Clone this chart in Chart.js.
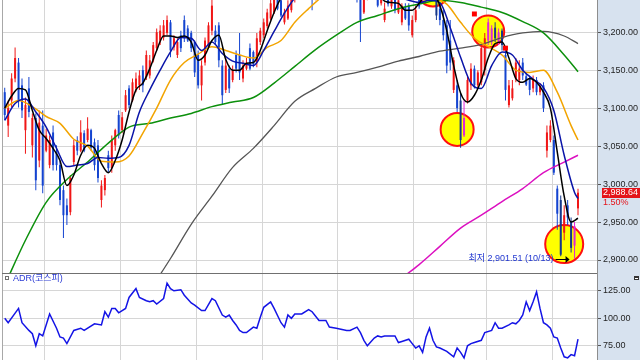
<!DOCTYPE html>
<html>
<head>
<meta charset="utf-8">
<script src="https://cdn.jsdelivr.net/npm/chart.js@4.4.1/dist/chart.umd.min.js"></script>
<style>
html, body { margin: 0; padding: 0; background: #fff; }
#wrap { position: relative; width: 640px; height: 360px; overflow: hidden; }
#priceChart { position: absolute; left: 0; top: 0; }
#adrChart { position: absolute; left: 0; top: 273px; }
</style>
</head>
<body>
<div id="wrap">
  <canvas id="priceChart" width="640" height="273"></canvas>
  <canvas id="adrChart" width="640" height="87"></canvas>
</div>
<script>
// 코스피 일봉 + 이동평균 + ADR, 값은 그림에서 눈으로 읽은 것

const slotCount = 172;                       // 오른쪽 빈칸 포함 봉 자리 수
const monthStarts = [12, 34, 56, 75, 97, 119, 140, 159];
const priceTicks = [2900, 2950, 3000, 3050, 3100, 3150, 3200];
const adrTicks = [75, 100, 125];

const open = [
  3121, 3077, 3110, 3139, 3160, 3130, 3071, 3126, 3051, 3087,
  3031, 3077, 3044, 3025, 3068, 3042, 3025, 2992, 2972, 2963,
  3029, 3058, 3044, 3067, 3058, 3071, 3055, 3051, 2979, 2992,
  3038, 3021, 3051, 3091, 3071, 3097, 3126, 3110, 3126, 3130,
  3150, 3141, 3143, 3163, 3179, 3189, 3193, 3199, 3213, 3180,
  3170, 3196, 3216, 3205, 3199, 3187, 3170, 3130, 3160, 3183,
  3202, 3202, 3209, 3156, 3124, 3152, 3137, 3170, 3170, 3139,
  3152, 3179, 3174, 3160, 3187, 3196, 3208, 3218, 3226, 3249,
  3242, 3213, 3218, 3229, 3246, 3258, 3253, 3268, 3262, 3268,
  3249, 3266, 3282, 3275, 3288, 3279, 3292, 3284, 3295, 3282,
  3271, 3258, 3262, 3255, 3226, 3249, 3258, 3253, 3258, 3238,
  3216, 3249, 3234, 3249, 3226, 3213, 3233, 3235, 3196, 3216,
  3246, 3242, 3255, 3266, 3258, 3249, 3231, 3216, 3209, 3189,
  3124, 3130, 3110, 3064, 3110, 3130, 3152, 3130, 3134, 3150,
  3189, 3187, 3206, 3187, 3202, 3170, 3104, 3113, 3139, 3137,
  3160, 3142, 3139, 3126, 3137, 3121, 3130, 3044, 3058, 3058,
  2994, 2979, 2936, 2972, 2950, 2919, 2968
];
const high = [
  3127, 3110, 3146, 3180, 3166, 3139, 3114, 3141, 3093, 3093,
  3097, 3097, 3073, 3064, 3077, 3051, 3031, 2998, 2981, 3012,
  3058, 3063, 3084, 3071, 3088, 3073, 3060, 3058, 3005, 3012,
  3044, 3064, 3073, 3097, 3095, 3124, 3130, 3139, 3147, 3150,
  3156, 3176, 3170, 3187, 3205, 3209, 3216, 3222, 3216, 3196,
  3192, 3202, 3222, 3209, 3202, 3189, 3176, 3163, 3193, 3213,
  3245, 3209, 3213, 3163, 3166, 3156, 3156, 3176, 3199, 3163,
  3166, 3185, 3176, 3199, 3206, 3218, 3231, 3249, 3253, 3255,
  3249, 3231, 3242, 3255, 3266, 3268, 3275, 3279, 3282, 3275,
  3271, 3288, 3292, 3295, 3297, 3301, 3301, 3305, 3305, 3288,
  3279, 3275, 3268, 3262, 3255, 3266, 3268, 3271, 3266, 3258,
  3239, 3255, 3253, 3253, 3246, 3238, 3238, 3238, 3222, 3235,
  3253, 3262, 3274, 3275, 3266, 3255, 3238, 3229, 3216, 3216,
  3167, 3137, 3120, 3110, 3141, 3159, 3156, 3150, 3183, 3199,
  3218, 3209, 3213, 3205, 3205, 3176, 3137, 3137, 3166, 3163,
  3166, 3147, 3143, 3143, 3141, 3133, 3134, 3077, 3084, 3064,
  2998, 2985, 2972, 2979, 2956, 2950, 2994
];
const low = [
  3084, 3062, 3101, 3134, 3101, 3087, 3040, 3088, 3035, 2992,
  3022, 2988, 3042, 3021, 3018, 3018, 2972, 2929, 2946, 2959,
  3025, 3038, 3042, 3042, 3055, 3044, 3018, 3002, 2969, 2985,
  3015, 3015, 3044, 3060, 3067, 3095, 3100, 3108, 3121, 3124,
  3121, 3137, 3139, 3160, 3176, 3183, 3189, 3196, 3167, 3176,
  3166, 3174, 3187, 3187, 3174, 3141, 3126, 3110, 3156, 3179,
  3196, 3183, 3154, 3104, 3120, 3120, 3134, 3147, 3137, 3134,
  3150, 3150, 3154, 3154, 3183, 3192, 3205, 3216, 3224, 3229,
  3220, 3210, 3216, 3226, 3239, 3245, 3247, 3255, 3255, 3229,
  3242, 3260, 3268, 3268, 3271, 3274, 3276, 3279, 3275, 3262,
  3250, 3249, 3239, 3187, 3224, 3242, 3245, 3246, 3233, 3235,
  3213, 3234, 3231, 3225, 3224, 3209, 3216, 3202, 3193, 3213,
  3231, 3239, 3250, 3253, 3245, 3216, 3209, 3189, 3146, 3150,
  3120, 3095, 3048, 3062, 3106, 3124, 3126, 3126, 3130, 3143,
  3183, 3183, 3187, 3183, 3176, 3110, 3101, 3110, 3134, 3130,
  3137, 3129, 3117, 3121, 3117, 3117, 3095, 3035, 3055, 3012,
  2940, 2905, 2926, 2946, 2910, 2901.51, 2959
];
const close = [
  3091, 3100, 3139, 3166, 3110, 3097, 3104, 3095, 3087, 3005,
  3081, 2998, 3064, 3058, 3025, 3025, 2979, 2959, 2959, 3008,
  3051, 3044, 3068, 3044, 3073, 3048, 3025, 3008, 2998, 3008,
  3021, 3058, 3071, 3064, 3088, 3117, 3104, 3134, 3139, 3143,
  3130, 3170, 3163, 3183, 3200, 3202, 3209, 3216, 3176, 3192,
  3187, 3179, 3192, 3189, 3179, 3147, 3130, 3156, 3189, 3209,
  3235, 3187, 3163, 3117, 3156, 3126, 3150, 3152, 3147, 3156,
  3160, 3152, 3158, 3192, 3202, 3213, 3226, 3238, 3245, 3231,
  3222, 3226, 3235, 3249, 3258, 3253, 3268, 3262, 3275, 3249,
  3266, 3282, 3275, 3288, 3279, 3292, 3284, 3295, 3282, 3271,
  3258, 3266, 3249, 3216, 3249, 3258, 3253, 3262, 3235, 3250,
  3231, 3237, 3246, 3229, 3242, 3235, 3218, 3209, 3216, 3229,
  3234, 3255, 3266, 3258, 3249, 3222, 3216, 3196, 3156, 3160,
  3163, 3100, 3058, 3087, 3137, 3152, 3130, 3147, 3179, 3192,
  3213, 3205, 3192, 3200, 3183, 3124, 3130, 3126, 3160, 3152,
  3143, 3131, 3124, 3137, 3121, 3129, 3100, 3068, 3077, 3015,
  2961, 2907, 2959, 2956, 2916, 2944.41, 2988.64
];
const lastChange = 1.50;
const lowDay = 165;
const lowValue = 2901.51;
const lowDate = '10/13';

function steps(from, to, step) {
  const out = [];
  for (let d = from; d <= to; d += step) out.push(d);
  return out;
}

// 이동평균선 (그림에서 몇 칸 간격으로 읽음)
const ma5Days = steps(0, 166, 2);
const ma5 = [
  3100, 3116, 3126, 3124, 3097, 3071, 3060, 3047, 3031, 2998,
  3012, 3038, 3051, 3047, 3027, 3015, 3031, 3058, 3095, 3124,
  3133, 3152, 3176, 3195, 3195, 3193, 3195, 3187, 3163, 3170,
  3189, 3196, 3164, 3150, 3150, 3159, 3160, 3176, 3202, 3226,
  3245, 3253, 3258, 3266, 3271, 3274, 3282, 3285, 3289, 3289,
  3279, 3266, 3253, 3250, 3249, 3241, 3239, 3238, 3229, 3229,
  3238, 3249, 3250, 3235, 3202, 3156, 3120, 3108, 3117, 3137,
  3166, 3185, 3187, 3166, 3139, 3134, 3139, 3134, 3121, 3100,
  3042, 2984, 2950, 2955
];
const ma10Days = steps(0, 165, 3).concat([166]);
const ma10 = [
  3084, 3106, 3112, 3095, 3075, 3047, 3023, 3025, 3027, 3035,
  3034, 3035, 3051, 3095, 3124, 3150, 3174, 3193, 3192, 3176,
  3187, 3172, 3162, 3159, 3156, 3176, 3201, 3225, 3245, 3255,
  3266, 3274, 3282, 3284, 3279, 3268, 3260, 3253, 3247, 3242,
  3239, 3242, 3239, 3206, 3167, 3133, 3126, 3156, 3174, 3170,
  3150, 3138, 3127, 3097, 3038, 2989, 2981
];
const ma20Days = steps(0, 164, 4).concat([166]);
const ma20 = [
  3100, 3110, 3102, 3089, 3080, 3059, 3050, 3030, 3029, 3037,
  3067, 3100, 3137, 3160, 3171, 3181, 3176, 3170, 3166, 3180,
  3189, 3213, 3231, 3247, 3258, 3263, 3263, 3260, 3258, 3255,
  3253, 3246, 3237, 3213, 3192, 3181, 3170, 3150, 3147, 3150,
  3121, 3077, 3058
];
const ma60Days = steps(0, 162, 6).concat([166]);
const ma60 = [
  2867, 2926, 2976, 3006, 3029, 3054, 3075, 3080, 3087, 3093,
  3102, 3108, 3114, 3133, 3155, 3177, 3196, 3213, 3222, 3231,
  3237, 3242, 3239, 3233, 3226, 3214, 3199, 3170, 3148
];
const ma120Days = steps(42, 162, 6).concat([166]);
const ma120 = [
  2860, 2902, 2947, 2984, 3022, 3047, 3077, 3109, 3126, 3141,
  3147, 3154, 3162, 3168, 3175, 3179, 3184, 3193, 3199, 3201,
  3195, 3185
];
const ma240Days = steps(114, 162, 6).concat([166]);
const ma240 = [2873, 2894, 2918, 2942, 2959, 2977, 2994, 3015, 3029, 3038];

// 노란 원 표시, 빨간 사각 신호
const circleDays = [131, 140, 162, 124];
const circlePrice = [3072, 3201, 2921, 3255];
const circleRadius = [16.5, 16, 19, 16];
const markerDays = [136, 145];
const markerPrice = [3224, 3179];

// ADR(코스피)
const adrDays = [
  0, 1, 4, 5, 7, 8, 9, 10, 11, 13,
  15, 16, 17, 18, 20, 22, 23, 26, 28, 29,
  30, 31, 32, 33, 35, 36, 38, 39, 41, 42,
  43, 44, 46, 47, 48, 49, 51, 52, 54, 55,
  57, 58, 60, 61, 63, 64, 65, 66, 67, 68,
  69, 70, 72, 73, 74, 75, 77, 78, 80, 81,
  82, 83, 84, 86, 88, 89, 91, 93, 94, 96,
  99, 100, 102, 103, 104, 105, 107, 108, 109, 110,
  113, 114, 115, 117, 118, 119, 120, 121, 122, 123,
  124, 125, 126, 128, 130, 131, 132, 133, 134, 135,
  136, 138, 139, 141, 142, 143, 144, 146, 147, 148,
  149, 150, 151, 152, 153, 154, 155, 156, 157, 158,
  159, 160, 161, 162, 163, 164, 165, 166
];
const adr = [
  100, 96, 109, 96, 89, 86, 75, 86, 84, 104,
  91, 83, 82, 77, 89, 91, 89, 95, 94, 106,
  101, 109, 109, 105, 109, 119, 127, 119, 116, 115,
  116, 113, 118, 132, 127, 125, 126, 121, 114, 112,
  107, 107, 118, 116, 103, 101, 103, 98, 94, 89,
  87, 87, 92, 91, 101, 110, 115, 109, 96, 92,
  103, 100, 104, 104, 108, 106, 98, 98, 92, 91,
  89, 89, 92, 87, 80, 75, 82, 84, 83, 84,
  84, 78, 79, 81, 77, 73, 75, 69, 83, 91,
  80, 74, 73, 70, 65, 73, 69, 64, 75, 77,
  78, 80, 87, 89, 96, 91, 91, 94, 96, 95,
  98, 103, 115, 107, 115, 124, 109, 96, 94, 91,
  83, 82, 73, 65, 64, 67, 66, 81
];

const panelColor = '#d7e2ef';
const gridColor = '#d6d6d6';
const fontFamily = '"Liberation Sans", "Noto Sans CJK KR", sans-serif';

Chart.defaults.font.family = fontFamily;
Chart.defaults.font.size = 9;
Chart.defaults.animation = false;

const fmt = v => v.toLocaleString('en-US', {minimumFractionDigits: 2, maximumFractionDigits: 2});
const xy = (days, vals) => days.map((d, k) => ({x: d, y: vals[k]}));

// 원 안에 들어간 봉은 색이 바뀌어 보임
function inCircle(chart, i) {
  const xs = chart.scales.x, ys = chart.scales.y;
  const px = xs.getPixelForValue(i);
  const py = ys.getPixelForValue((open[i] + close[i]) / 2);
  return circleDays.some((d, k) =>
    Math.hypot(px - xs.getPixelForValue(d), py - ys.getPixelForValue(circlePrice[k])) < circleRadius[k]);
}
function candleColor(ctx) {
  const i = ctx.dataIndex;
  const up = close[i] >= open[i];
  if (inCircle(ctx.chart, i)) return up ? '#e024d8' : '#16388c';
  return up ? '#f01616' : '#1444d0';
}

function noPadding(s) {
  s.paddingTop = 0;
  s.paddingBottom = 0;
  s.paddingLeft = 0;
  s.paddingRight = 0;
}

function xScale() {
  return {
    type: 'linear',
    min: -0.5,
    max: slotCount - 0.5,
    offset: false,
    afterBuildTicks: s => { s.ticks = monthStarts.map(m => ({value: m - 0.5})); },
    afterFit: s => { noPadding(s); s.height = 0; },
    ticks: {display: false},
    grid: {color: gridColor, drawTicks: false, offset: false},
    border: {display: false}
  };
}
function yScale(min, max, tickValues) {
  return {
    position: 'right',
    min: min,
    max: max,
    beginAtZero: false,
    afterBuildTicks: s => { s.ticks = tickValues.map(v => ({value: v})); },
    afterFit: s => { noPadding(s); s.width = 43; },
    ticks: {color: '#1e1e1e', padding: 2, callback: v => fmt(v)},
    grid: {color: gridColor, tickLength: 4, tickColor: '#555'},
    border: {color: '#8e8e8e'}
  };
}

function maLine(days, vals, color, width, order) {
  return {
    type: 'line',
    data: xy(days, vals),
    borderColor: color,
    borderWidth: width,
    pointRadius: 0,
    cubicInterpolationMode: 'monotone',
    fill: false,
    order: order
  };
}

const priceDecor = {
  id: 'priceDecor',
  beforeDraw(chart) {
    const {ctx, chartArea, width, height} = chart;
    ctx.save();
    ctx.fillStyle = panelColor;
    ctx.fillRect(chartArea.right, 0, width - chartArea.right, height);
    ctx.restore();
  },
  afterDraw(chart) {
    const {ctx, chartArea, width, height} = chart;
    const x = chart.scales.x, y = chart.scales.y;
    ctx.save();
    ctx.fillStyle = '#a8a8a8';
    ctx.fillRect(chartArea.left - 1, 0, 1, height);

    // 최저가 표시
    const lx = x.getPixelForValue(lowDay);
    const ly = Math.round(y.getPixelForValue(lowValue));
    ctx.font = '9px ' + fontFamily;
    ctx.textBaseline = 'middle';
    ctx.textAlign = 'right';
    ctx.fillStyle = '#2036d0';
    ctx.fillText('최저 ' + fmt(lowValue) + ' (' + lowDate + ')', lx - 21, ly);
    ctx.strokeStyle = '#000';
    ctx.lineWidth = 1;
    ctx.beginPath();
    ctx.moveTo(lx - 19, ly + 0.5);
    ctx.lineTo(lx - 8, ly + 0.5);
    ctx.stroke();
    ctx.fillStyle = '#000';
    ctx.beginPath();
    ctx.moveTo(lx - 5, ly + 0.5);
    ctx.lineTo(lx - 9, ly - 3);
    ctx.lineTo(lx - 9, ly + 4);
    ctx.closePath();
    ctx.fill();

    // 현재가 라벨
    const last = close[close.length - 1];
    const cy = Math.round(y.getPixelForValue(last));
    ctx.fillStyle = '#e4141a';
    ctx.fillRect(chartArea.right + 5, cy - 5, width - chartArea.right - 5, 10);
    ctx.textAlign = 'left';
    ctx.fillStyle = '#fff';
    ctx.fillText(fmt(last), chartArea.right + 6, cy);
    ctx.fillStyle = '#e4141a';
    ctx.fillText(lastChange.toFixed(2) + '%', chartArea.right + 6, cy + 10);
    ctx.restore();
  }
};

new Chart(document.getElementById('priceChart'), {
  type: 'bar',
  data: {
    datasets: [
      {
        type: 'line',
        data: xy(circleDays, circlePrice),
        showLine: false,
        pointRadius: ctx => circleRadius[ctx.dataIndex],
        pointBackgroundColor: '#ffff00',
        pointBorderColor: '#ff1010',
        pointBorderWidth: 2,
        clip: false,
        order: 20
      },
      {
        data: close.map((c, i) => ({x: i, y: [low[i], high[i]]})),
        backgroundColor: candleColor,
        grouped: false,
        maxBarThickness: 1,
        order: 12
      },
      {
        data: close.map((c, i) => ({x: i, y: [open[i], c]})),
        backgroundColor: candleColor,
        grouped: false,
        maxBarThickness: 2,
        minBarLength: 1,
        order: 11
      },
      maLine(ma240Days, ma240, '#dc10c0', 1.5, 9),
      maLine(ma120Days, ma120, '#555555', 1.3, 8),
      maLine(ma60Days, ma60, '#0c900c', 1.5, 7),
      maLine(ma20Days, ma20, '#f2a400', 1.5, 6),
      maLine(ma10Days, ma10, '#0a14a8', 1.5, 5),
      maLine(ma5Days, ma5, '#000000', 1.5, 4),
      {
        type: 'line',
        data: xy(markerDays, markerPrice),
        showLine: false,
        pointStyle: 'rect',
        pointRadius: 3.5,
        pointBackgroundColor: '#ff0000',
        pointBorderWidth: 0,
        order: 1
      }
    ]
  },
  options: {
    responsive: false,
    events: [],
    layout: {autoPadding: false, padding: {left: 3, right: 0, top: 0, bottom: 0}},
    plugins: {legend: {display: false}, tooltip: {enabled: false}},
    scales: {
      x: xScale(),
      y: yScale(2882.9, 3242.4, priceTicks)
    }
  },
  plugins: [priceDecor]
});

const adrDecor = {
  id: 'adrDecor',
  beforeDraw(chart) {
    const {ctx, chartArea, width, height} = chart;
    ctx.save();
    ctx.fillStyle = panelColor;
    ctx.fillRect(chartArea.right, 0, width - chartArea.right, height);
    ctx.restore();
  },
  afterDraw(chart) {
    const {ctx, chartArea, height} = chart;
    ctx.save();
    ctx.fillStyle = '#a8a8a8';
    ctx.fillRect(chartArea.left - 1, 0, 1, height);
    ctx.fillStyle = '#707070';
    ctx.fillRect(chartArea.left - 1, 0, chartArea.right - chartArea.left + 1, 1);
    // 작은 아이콘들
    ctx.strokeStyle = '#707070';
    ctx.lineWidth = 1;
    ctx.strokeRect(5.5, 3.5, 3, 3);
    ctx.fillStyle = '#333';
    ctx.fillRect(634, 3, 5, 4);
    ctx.fillStyle = '#fff';
    ctx.fillRect(635, 5, 3, 1);
    ctx.font = '9px ' + fontFamily;
    ctx.fillStyle = '#2a3ad4';
    ctx.textAlign = 'left';
    ctx.textBaseline = 'middle';
    ctx.fillText('ADR(코스피)', 13, 6);
    ctx.restore();
  }
};

new Chart(document.getElementById('adrChart'), {
  type: 'line',
  data: {
    datasets: [{
      data: xy(adrDays, adr),
      borderColor: '#1414e6',
      borderWidth: 1.5,
      pointRadius: 0,
      tension: 0,
      fill: false
    }]
  },
  options: {
    responsive: false,
    events: [],
    layout: {autoPadding: false, padding: {left: 3, right: 0, top: 0, bottom: 0}},
    plugins: {legend: {display: false}, tooltip: {enabled: false}},
    scales: {
      x: xScale(),
      y: yScale(62.1, 141.2, adrTicks)
    }
  },
  plugins: [adrDecor]
});
</script>
</body>
</html>
